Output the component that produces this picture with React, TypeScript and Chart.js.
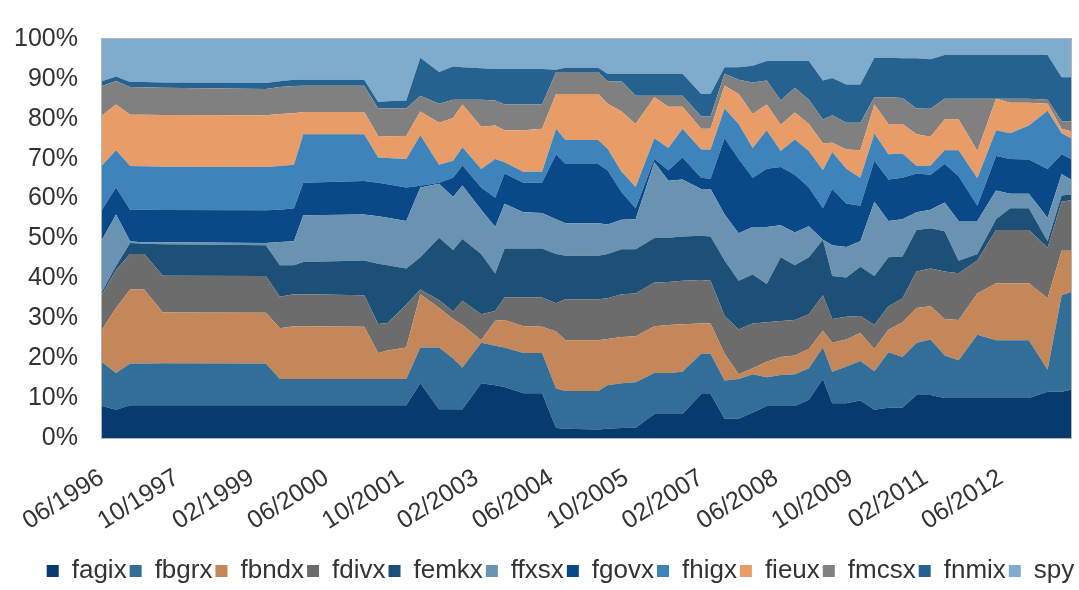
import React, { useEffect, useRef } from "react";
import { Chart, registerables } from "chart.js";

Chart.register(...registerables);

// Observation dates (month/year) shared by every fund series
const dates = [
  "06/1996", "09/1996", "12/1996", "03/1997", "07/1997",
  "05/1999", "08/1999", "11/1999", "01/2000",
  "02/2001", "05/2001", "07/2001", "11/2001",
  "02/2002", "06/2002", "09/2002", "11/2002",
  "03/2003", "06/2003", "08/2003", "12/2003",
  "04/2004", "07/2004", "09/2004",
  "04/2005", "06/2005", "09/2005", "12/2005",
  "04/2006", "07/2006", "10/2006", "02/2007",
  "04/2007", "07/2007", "10/2007",
  "01/2008", "04/2008", "07/2008", "10/2008",
  "01/2009", "04/2009", "06/2009", "09/2009",
  "12/2009", "03/2010", "06/2010", "09/2010",
  "12/2010", "03/2011", "06/2011", "09/2011",
  "01/2012", "05/2012", "08/2012", "12/2012",
  "04/2013", "07/2013", "09/2013",
];

// Portfolio weight of each fund (percent) at each date
const fagix = [8.0, 7.1, 8.2, 8.2, 8.2, 8.2, 8.2, 8.2, 8.2, 8.2, 8.2, 8.2, 8.2, 13.7, 7.2, 7.2, 7.2, 13.7, 13.2, 12.8, 11.2, 11.2, 2.5, 2.3, 2.1, 2.3, 2.5, 2.6, 6.0, 6.0, 6.0, 11.0, 11.0, 4.8, 4.8, 6.4, 8.0, 8.0, 8.0, 9.6, 14.8, 8.7, 8.7, 9.4, 7.1, 7.6, 7.6, 10.8, 10.8, 10.0, 10.0, 10.0, 10.0, 10.0, 10.0, 11.6, 11.6, 12.1];
const fbgrx = [11.0, 9.2, 10.5, 10.5, 10.5, 10.5, 6.6, 6.6, 6.6, 6.6, 6.6, 6.6, 6.6, 9.0, 15.5, 12.7, 10.5, 10.2, 9.9, 9.9, 10.1, 10.1, 9.9, 9.5, 9.7, 10.9, 11.2, 11.4, 10.3, 10.3, 10.6, 10.1, 10.1, 9.6, 10.0, 9.6, 7.2, 7.8, 8.0, 7.9, 7.9, 7.9, 9.2, 9.9, 9.6, 13.9, 12.7, 13.1, 13.9, 10.7, 9.5, 15.9, 14.5, 14.5, 14.5, 5.5, 24.2, 24.5];
const fbndx = [8.1, 16.3, 18.5, 18.5, 12.7, 12.7, 12.7, 13.2, 13.2, 13.1, 6.5, 7.1, 7.9, 13.3, 9.9, 9.9, 10.6, 0.6, 6.3, 6.9, 6.7, 6.6, 14.3, 12.7, 12.7, 11.6, 11.6, 11.5, 11.7, 12.0, 11.9, 7.6, 7.6, 6.7, 1.2, 1.5, 3.9, 4.5, 4.7, 4.8, 4.2, 7.3, 6.8, 7.0, 5.6, 5.6, 8.7, 8.7, 8.3, 9.1, 10.1, 10.3, 14.3, 14.3, 14.3, 17.9, 11.1, 10.3];
const fdivx = [8.9, 9.5, 8.9, 8.9, 9.2, 9.2, 7.9, 8.0, 8.0, 7.9, 7.3, 6.9, 10.7, 1.2, 2.0, 1.9, 6.1, 6.5, 2.4, 5.6, 7.2, 7.3, 7.1, 10.3, 10.3, 10.2, 10.7, 10.7, 11.0, 10.8, 10.9, 10.9, 10.7, 9.5, 11.2, 11.2, 9.9, 9.0, 8.9, 8.7, 8.9, 5.9, 5.7, 4.3, 6.0, 5.9, 6.0, 9.1, 9.5, 11.9, 11.7, 8.3, 13.3, 13.3, 13.3, 12.7, 12.3, 12.7];
const femkx = [0.7, 1.0, 2.8, 2.6, 7.9, 7.7, 7.9, 7.3, 8.1, 8.7, 15.1, 14.5, 9.1, 8.1, 15.6, 15.4, 15.5, 15.1, 9.4, 12.3, 12.3, 12.3, 12.3, 10.9, 10.9, 11.1, 11.3, 11.1, 11.1, 11.1, 11.1, 11.1, 11.1, 13.9, 12.2, 12.3, 9.6, 16.0, 13.7, 14.3, 13.9, 10.8, 9.8, 12.3, 12.3, 12.3, 10.5, 10.4, 10.1, 10.1, 3.1, 1.6, 2.7, 5.5, 5.5, 1.6, 1.6, 1.4];
const ffxsx = [13.0, 12.9, 0.4, 0.3, 0.5, 0.6, 5.8, 6.0, 11.7, 11.5, 11.9, 11.9, 11.9, 17.5, 13.5, 13.3, 13.4, 11.1, 11.7, 11.2, 9.1, 8.9, 8.7, 8.1, 8.1, 7.4, 7.4, 7.5, 19.0, 14.3, 14.3, 11.7, 11.9, 11.5, 11.9, 11.9, 14.3, 8.0, 8.2, 7.8, 0.0, 7.7, 7.7, 6.4, 18.6, 9.1, 9.3, 4.5, 4.6, 7.2, 10.0, 8.3, 7.2, 3.6, 3.6, 5.9, 5.3, 3.8];
const fgovx = [7.5, 6.8, 7.9, 8.2, 8.1, 8.2, 8.1, 8.3, 8.2, 8.4, 8.4, 8.4, 8.4, 0.4, 0.3, 4.8, 5.0, 5.6, 7.3, 7.6, 7.4, 7.6, 16.3, 14.9, 14.9, 13.6, 6.9, 2.8, 0.8, 2.6, 5.5, 2.8, 2.6, 19.1, 18.6, 12.3, 14.6, 14.6, 14.5, 9.7, 7.9, 14.1, 10.9, 8.9, 10.3, 10.4, 10.4, 9.7, 8.8, 9.7, 11.2, 3.8, 8.7, 8.7, 8.6, 12.2, 5.0, 5.1];
const fhigx = [11.1, 9.3, 11.0, 10.9, 10.8, 10.8, 11.0, 10.9, 12.1, 11.7, 6.3, 6.6, 7.1, 12.7, 4.5, 4.3, 4.6, 4.6, 9.7, 2.8, 2.7, 2.7, 6.4, 6.0, 6.0, 5.4, 5.1, 5.3, 5.2, 5.6, 7.2, 7.1, 7.3, 7.5, 8.8, 7.5, 9.6, 4.0, 8.8, 9.1, 9.5, 9.3, 8.7, 7.0, 6.8, 6.3, 6.1, 1.9, 2.3, 3.4, 6.5, 6.9, 6.4, 6.5, 8.5, 14.6, 5.3, 5.2];
const fieux = [12.6, 11.5, 12.8, 12.9, 13.0, 13.0, 13.0, 12.9, 5.6, 5.6, 5.4, 5.4, 5.8, 5.9, 10.5, 10.7, 10.7, 10.6, 8.4, 8.0, 10.4, 10.8, 8.7, 11.5, 11.5, 11.3, 15.1, 15.8, 10.3, 10.3, 5.5, 5.2, 5.2, 5.7, 7.5, 8.5, 6.5, 6.6, 6.8, 6.8, 6.8, 2.3, 4.8, 6.9, 7.3, 7.6, 7.4, 7.9, 7.2, 7.7, 7.7, 6.8, 7.9, 7.6, 5.7, 1.8, 1.1, 1.8];
const fmcsx = [7.3, 5.9, 7.0, 6.9, 6.8, 6.6, 6.8, 6.8, 6.6, 6.6, 6.9, 7.0, 6.9, 4.0, 4.8, 4.6, 1.2, 6.8, 6.3, 6.5, 6.5, 6.1, 5.5, 5.5, 5.5, 5.6, 7.6, 7.1, 0.4, 2.8, 2.8, 3.1, 3.1, 3.0, 3.6, 7.9, 6.0, 6.1, 6.2, 6.1, 5.9, 6.9, 6.7, 6.9, 1.8, 6.7, 6.5, 6.5, 7.0, 5.2, 5.2, 13.1, 0.0, 1.0, 1.0, 1.0, 1.9, 2.4];
const fnmix = [1.2, 1.1, 1.2, 1.3, 1.3, 1.5, 1.4, 1.6, 1.5, 1.5, 1.6, 1.8, 2.0, 9.5, 7.9, 8.3, 8.1, 7.9, 7.9, 8.9, 8.9, 8.9, 0.6, 1.1, 1.1, 1.9, 1.9, 5.5, 5.5, 5.5, 5.5, 5.6, 5.6, 1.6, 3.1, 4.2, 4.9, 9.9, 6.7, 9.7, 9.8, 9.3, 9.6, 9.6, 9.9, 9.9, 10.0, 12.6, 12.4, 11.0, 11.0, 11.0, 11.0, 11.0, 11.0, 11.2, 11.0, 11.1];
const spy = [10.6, 9.4, 10.8, 10.8, 10.9, 11.0, 10.6, 10.2, 10.2, 10.2, 15.8, 15.6, 15.4, 4.7, 8.3, 6.9, 7.1, 7.3, 7.5, 7.5, 7.5, 7.5, 7.7, 7.2, 7.2, 8.7, 8.7, 8.7, 8.7, 8.7, 8.7, 13.8, 13.8, 7.1, 7.1, 6.7, 5.5, 5.5, 5.5, 5.5, 10.4, 9.8, 11.4, 11.4, 4.7, 4.7, 4.8, 4.8, 5.1, 4.0, 4.0, 4.0, 4.0, 4.0, 4.0, 4.0, 9.6, 9.6];

// Category labels shown under the time axis
const tickLabels = [
  "06/1996", "10/1997", "02/1999", "06/2000", "10/2001", "02/2003", "06/2004",
  "10/2005", "02/2007", "06/2008", "10/2009", "02/2011", "06/2012",
];

const seriesNames = ["fagix", "fbgrx", "fbndx", "fdivx", "femkx", "ffxsx", "fgovx", "fhigx", "fieux", "fmcsx", "fnmix", "spy"];
const seriesValues = [fagix, fbgrx, fbndx, fdivx, femkx, ffxsx, fgovx, fhigx, fieux, fmcsx, fnmix, spy];
const seriesColors = ["#073a6e", "#336e99", "#c4875a", "#6c6c6c", "#1d5077", "#6a92b1", "#0a4988", "#3e83b9", "#e89d68", "#808080", "#25628f", "#7fabcd"];

const START_YEAR = 1996;
const START_MONTH = 6;
const LAST_MONTH_INDEX = 207; // 09/2013

// "MM/YYYY" -> months elapsed since 06/1996
const toMonth = (s: string) => {
  const [mm, yyyy] = s.split("/").map(Number);
  return (yyyy - START_YEAR) * 12 + (mm - START_MONTH);
};

// months elapsed since 06/1996 -> "MM/YYYY"
const fromMonth = (m: number) => {
  const t = START_MONTH - 1 + Math.round(m);
  const y = START_YEAR + Math.floor(t / 12);
  const mo = (t % 12) + 1;
  return String(mo).padStart(2, "0") + "/" + y;
};

const FONT = "'Liberation Sans', Arial, Helvetica, sans-serif";
const TEXT = "#333333";
const LEGEND_SHIFT = 25;

// Thin grey frame around the plotting area
const plotFrame = {
  id: "plotFrame",
  afterDatasetsDraw(chart: any) {
    const { ctx, chartArea } = chart;
    const { left, top, right, bottom } = chartArea;
    ctx.save();
    ctx.strokeStyle = "#b4b4b4";
    ctx.lineWidth = 1;
    ctx.strokeRect(left - 0.5, top - 0.5, right - left + 1, bottom - top + 1);
    ctx.restore();
  },
};

// Moves the centred legend row a little to the right, under the plot
const legendOffset = {
  id: "legendOffset",
  afterLayout(chart: any) {
    const lg = chart.legend;
    if (!lg) return;
    lg.left += LEGEND_SHIFT;
    lg.right += LEGEND_SHIFT;
  },
};

export default function App() {
  const canvasRef = useRef<HTMLCanvasElement | null>(null);

  useEffect(() => {
    if (!canvasRef.current) return;
    const xs = dates.map(toMonth);
    // each date's weights expressed as a share of 100%
    const totals = dates.map((_, i) => seriesValues.reduce((sum, s) => sum + s[i], 0));

    const datasets = seriesNames.map((name, k) => ({
      label: name,
      data: seriesValues[k].map((v, i) => ({ x: xs[i], y: (v / totals[i]) * 100 })),
      backgroundColor: seriesColors[k],
      borderColor: "rgba(0,0,0,0)",
      borderWidth: 0,
      pointRadius: 0,
      pointHoverRadius: 0,
      tension: 0,
      fill: k === 0 ? "origin" : "-1",
    }));

    const chart = new Chart(canvasRef.current, {
      type: "line",
      data: { datasets },
      plugins: [plotFrame, legendOffset],
      options: {
        animation: false,
        responsive: true,
        maintainAspectRatio: false,
        layout: { padding: { top: 17, right: 8, bottom: -4, left: 0 } },
        plugins: {
          tooltip: { enabled: false },
          legend: {
            position: "bottom",
            labels: {
              boxWidth: 12,
              boxHeight: 12,
              padding: 3,
              color: TEXT,
              font: { family: FONT, size: 26 },
            },
          },
        },
        scales: {
          x: {
            type: "linear",
            min: 0,
            max: LAST_MONTH_INDEX,
            grid: { display: false },
            border: { display: false },
            afterBuildTicks: (scale: any) => {
              scale.ticks = tickLabels.map((l) => ({ value: toMonth(l) }));
            },
            afterFit: (scale: any) => {
              scale.height = 117;
            },
            ticks: {
              autoSkip: false,
              minRotation: 32,
              maxRotation: 32,
              padding: 17,
              color: TEXT,
              font: { family: FONT, size: 25 },
              callback: (value: any) => fromMonth(Number(value)),
            },
          },
          y: {
            stacked: true,
            min: 0,
            max: 100,
            grid: { display: false, drawTicks: false },
            border: { display: false },
            afterFit: (scale: any) => {
              scale.width = 102;
            },
            ticks: {
              stepSize: 10,
              padding: 24,
              color: TEXT,
              font: { family: FONT, size: 25 },
              callback: (value: any) => value + "%",
            },
          },
        },
      },
    });

    return () => chart.destroy();
  }, []);

  return (
    <div style={{ position: "absolute", left: 0, top: 0, width: 1079, height: 590, background: "#ffffff" }}>
      <canvas ref={canvasRef} />
    </div>
  );
}
